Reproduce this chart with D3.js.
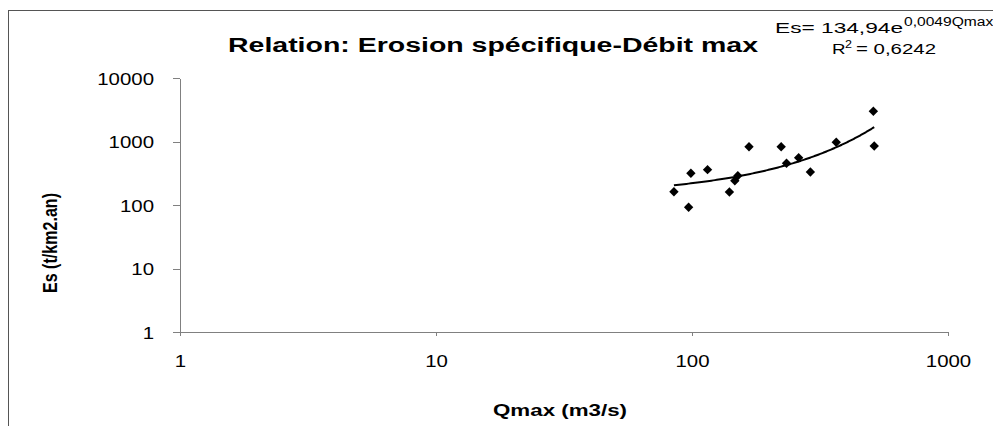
<!DOCTYPE html>
<html>
<head>
    <meta charset="utf-8">
    <title>Relation: Erosion spécifique-Débit max</title>
    <script src="https://d3js.org/d3.v7.min.js"></script>
    <style>
        body { margin: 0; background: #fff; }
        text { font-family: "Liberation Sans", Arial, sans-serif; fill: #000; }
        .axis path, .axis line { stroke: #808080; stroke-width: 1; shape-rendering: crispEdges; }
    </style>
</head>
<body>
    <div id="chart"></div>
    <script>
        // données
        const qmax = [85, 97, 99, 115, 140, 147, 151, 167, 223, 234, 261, 290, 366, 511, 515];
        const es   = [162, 92, 316, 360, 160, 241, 289, 828, 828, 454, 556, 331, 971, 2990, 849];
        const xTicks = [1, 10, 100, 1000];
        const yTicks = [1, 10, 100, 1000, 10000];
        // tendance exponentielle affichée : Es = 134,94 e^(0,0049 Qmax)
        const trendA = 134.94, trendB = 0.0049;

        const W = 993, H = 426;
        const STRETCH = 1.25; // le graphique d'origine est étiré horizontalement

        const svg = d3.select("#chart").append("svg")
            .attr("width", W).attr("height", H);

        // cadre
        svg.append("rect")
            .attr("x", 8.5).attr("y", 10.5)
            .attr("width", 1200).attr("height", 1000)
            .attr("fill", "none").attr("stroke", "#555");

        const x = d3.scaleLog().domain([1, 1000]).range([180, 948]);
        const y = d3.scaleLog().domain([1, 10000]).range([332, 78]);

        // étirement horizontal du texte
        function stretch(sel, k) {
            sel.each(function() {
                const len = this.getComputedTextLength();
                d3.select(this)
                    .attr("textLength", len * k)
                    .attr("lengthAdjust", "spacingAndGlyphs");
            });
        }
        function fitWidth(sel, w) {
            sel.attr("textLength", w).attr("lengthAdjust", "spacingAndGlyphs");
        }

        // axe X
        const gx = svg.append("g")
            .attr("class", "axis")
            .attr("transform", "translate(0,332)")
            .call(d3.axisBottom(x).tickValues(xTicks).tickSize(4).tickSizeOuter(0).tickFormat(d3.format("d")));
        gx.select(".domain").attr("d", "M173.5,0.5H948.5");
        gx.selectAll(".tick text")
            .attr("y", 35).attr("dy", 0)
            .style("font-size", "17px")
            .call(stretch, 1.2);

        // axe Y
        const gy = svg.append("g")
            .attr("class", "axis")
            .attr("transform", "translate(180,0)")
            .call(d3.axisLeft(y).tickValues(yTicks).tickSize(7).tickSizeOuter(0).tickFormat(d3.format("d")));
        gy.selectAll(".tick text")
            .attr("x", -26).attr("dy", "0.36em")
            .style("font-size", "17px")
            .call(stretch, 1.2);

        // courbe de tendance
        const qs = d3.range(d3.min(qmax), d3.max(qmax) + 0.5, 2);
        svg.append("path")
            .datum(qs)
            .attr("fill", "none")
            .attr("stroke", "#000")
            .attr("stroke-width", 2)
            .attr("d", d3.line()
                .x(q => x(q))
                .y(q => y(trendA * Math.exp(trendB * q))));

        // points
        const points = qmax.map((q, i) => ({q: q, e: es[i]}));
        svg.selectAll(".pt")
            .data(points)
            .enter().append("path")
            .attr("class", "pt")
            .attr("d", d3.symbol().type(d3.symbolSquare).size(44))
            .attr("transform", d => `translate(${x(d.q)},${y(d.e)}) rotate(45)`)
            .attr("fill", "#000");

        // titre
        svg.append("text")
            .attr("x", 493).attr("y", 52)
            .attr("text-anchor", "middle")
            .style("font-size", "20px").style("font-weight", "bold")
            .text("Relation: Erosion spécifique-Débit max")
            .call(fitWidth, 530);

        // titres des axes
        svg.append("text")
            .attr("x", 560).attr("y", 416)
            .attr("text-anchor", "middle")
            .style("font-size", "17px").style("font-weight", "bold")
            .text("Qmax (m3/s)")
            .call(fitWidth, 134);

        svg.append("text")
            .attr("transform", "translate(57,243) scale(1.3,1) rotate(-90)")
            .attr("text-anchor", "middle")
            .style("font-size", "16px").style("font-weight", "bold")
            .text("Es (t/km2.an)")
            .call(fitWidth, 100);

        // équation
        svg.append("text")
            .attr("x", 775).attr("y", 33)
            .style("font-size", "15px")
            .text("Es= 134,94e")
            .call(fitWidth, 128);
        svg.append("text")
            .attr("x", 904).attr("y", 26)
            .style("font-size", "12px")
            .text("0,0049Qmax")
            .call(stretch, 1.3);

        svg.append("text")
            .attr("x", 832).attr("y", 54)
            .style("font-size", "15px")
            .text("R")
            .call(stretch, STRETCH);
        svg.append("text")
            .attr("x", 845).attr("y", 48)
            .style("font-size", "10px")
            .text("2")
            .call(stretch, STRETCH);
        svg.append("text")
            .attr("x", 856).attr("y", 54)
            .style("font-size", "15px")
            .text("= 0,6242")
            .call(fitWidth, 80);
    </script>
</body>
</html>
